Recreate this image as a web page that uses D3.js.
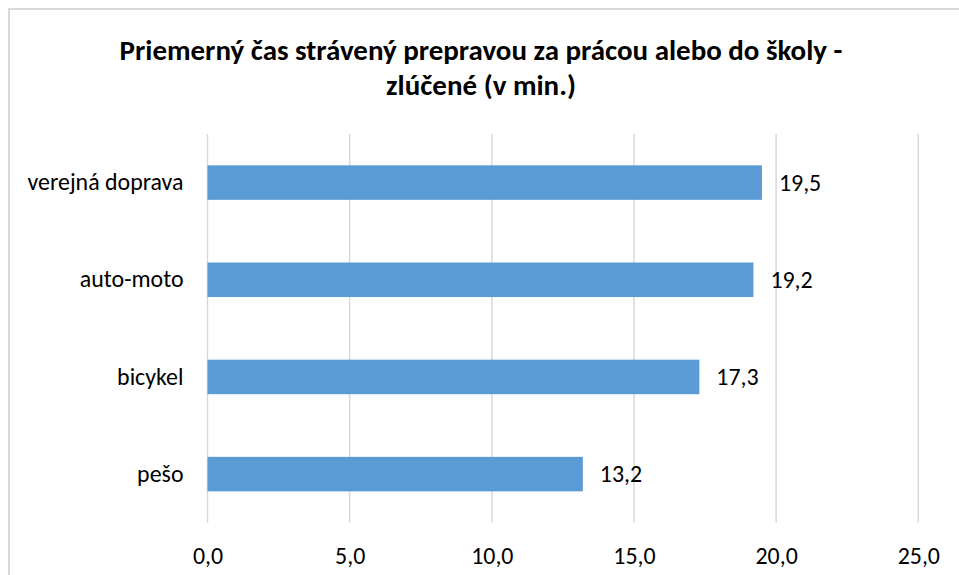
<!DOCTYPE html>
<html>
<head>
<meta charset="utf-8">
<script src="https://cdn.jsdelivr.net/npm/d3@7/dist/d3.min.js"></script>
<style>
  html, body { margin: 0; padding: 0; background: #fff; }
  svg { display: block; }
  text { font-family: Carlito, Calibri, Lato, "Open Sans", sans-serif; fill: #000; }
</style>
</head>
<body>
<svg id="chart" width="959" height="575"></svg>
<script>
const titleLines = ["Priemerný čas strávený prepravou za prácou alebo do školy -", "zlúčené (v min.)"];
const categories = ["verejná doprava", "auto-moto", "bicykel", "pešo"];
const values = [19.5, 19.2, 17.3, 13.2];
const tickValues = [0, 5, 10, 15, 20, 25];

const W = 959, H = 575;
const svg = d3.select("#chart");

svg.append("rect").attr("width", W).attr("height", H).attr("fill", "#fff");
// chart frame (only left/top visible within the crop)
svg.append("rect")
  .attr("x", 9).attr("y", 9).attr("width", W + 20).attr("height", H + 20)
  .attr("fill", "none").attr("stroke", "#d9d9d9").attr("stroke-width", 2);

const plot = { left: 207.5, right: 918.3, top: 134, bottom: 522.7 };

const x = d3.scaleLinear().domain([0, 25]).range([plot.left, plot.right]);
const y = d3.scaleBand().domain(categories).range([plot.top, plot.bottom])
  .paddingInner(0.645).paddingOuter(0.3225);

const fmt = v => d3.format(".1f")(v).replace(".", ",");

// gridlines
svg.append("g").selectAll("line").data(tickValues).join("line")
  .attr("x1", d => x(d)).attr("x2", d => x(d))
  .attr("y1", plot.top).attr("y2", plot.bottom)
  .attr("stroke", "#d9d9d9").attr("stroke-width", 1.5);

// bars
svg.append("g").selectAll("rect").data(categories).join("rect")
  .attr("x", x(0))
  .attr("y", d => y(d))
  .attr("width", (d, i) => x(values[i]) - x(0))
  .attr("height", y.bandwidth())
  .attr("fill", "#5b9bd5");

// x axis (labels only)
const xAxis = svg.append("g")
  .attr("transform", `translate(0,${plot.bottom})`)
  .call(d3.axisBottom(x).tickValues(tickValues).tickFormat(fmt).tickSize(0).tickPadding(24));
xAxis.select(".domain").remove();
xAxis.selectAll("text").style("font-size", "18.5px").attr("fill", "#000")
  .style("font-family", 'Carlito, Calibri, Lato, "Open Sans", sans-serif');

// y axis (labels only)
const yAxis = svg.append("g")
  .attr("transform", `translate(${plot.left},0)`)
  .call(d3.axisLeft(y).tickSize(0).tickPadding(24));
yAxis.select(".domain").remove();
yAxis.selectAll("text").style("font-size", "18.5px").attr("fill", "#000")
  .style("font-family", 'Carlito, Calibri, Lato, "Open Sans", sans-serif');

// value labels
svg.append("g").selectAll("text").data(categories).join("text")
  .attr("x", (d, i) => x(values[i]) + 17)
  .attr("y", d => y(d) + y.bandwidth() / 2)
  .attr("dy", "0.35em")
  .style("font-size", "18.5px")
  .text((d, i) => fmt(values[i]));

// title
const title = svg.append("text")
  .attr("text-anchor", "middle")
  .style("font-weight", "bold")
  .style("font-size", "24px");
title.selectAll("tspan").data(titleLines).join("tspan")
  .attr("x", 481)
  .attr("y", (d, i) => 60 + i * 35)
  .text(d => d);

// fit title width to reference (~723px)
const t1 = title.select("tspan").node();
const w1 = t1.getComputedTextLength();
if (w1 > 0) title.style("font-size", (24 * 723 / w1).toFixed(2) + "px");

// fit category label size to reference ("verejná doprava" ~156px)
const lab = yAxis.selectAll("text").filter(d => d === "verejná doprava").node();
const lw = lab.getComputedTextLength();
if (lw > 0) {
  const fs = (18.5 * 156 / lw).toFixed(2) + "px";
  svg.selectAll("g text").style("font-size", fs);
}
</script>
</body>
</html>
